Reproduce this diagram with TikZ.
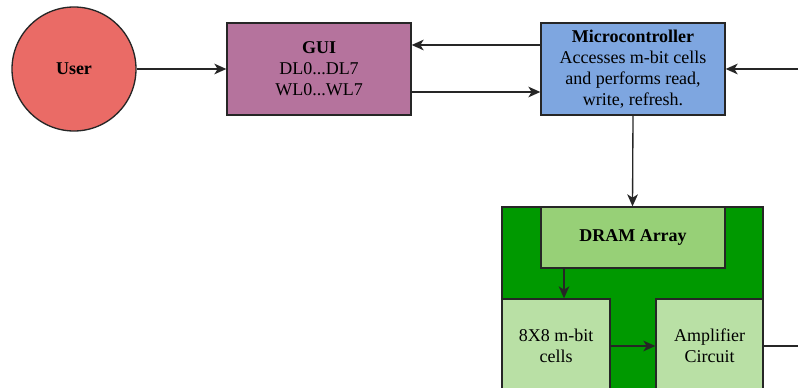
\documentclass[tikz,border=0pt]{standalone}
\usepackage{fontspec}
\setmainfont{Liberation Serif}
\usetikzlibrary{arrows.meta}

\definecolor{userred}{HTML}{EA6B66}
\definecolor{guipurple}{HTML}{B5739D}
\definecolor{mcublue}{HTML}{7EA6E0}
\definecolor{chipgreen}{HTML}{009900}
\definecolor{arraygreen}{HTML}{97D077}
\definecolor{cellgreen}{HTML}{B9E0A5}

\tikzset{
	blk/.style={draw=black!85, line width=1pt, align=center, inner sep=1pt, font=\fontsize{13.5}{15.75}\selectfont},
	arr/.style={line width=1pt, draw=black!85, -{Stealth[length=9pt, width=8pt, inset=2.5pt]}},
	wire/.style={line width=1pt, draw=black!85}
}

\begin{document}
\begin{tikzpicture}[x=0.75pt, y=-0.75pt]
		%%%%% START %%%%%
		
		\useasboundingbox (0, 0) rectangle (798, 388);
		\clip (0, 0) rectangle (798, 388);
		
		\node[blk, circle, fill=userred, minimum size=93pt, inner sep=0pt] (user) at (74, 69) {\textbf{User}};
		\node[blk, fill=guipurple, minimum width=138pt, minimum height=69pt] (gui) at (319, 69) {\textbf{GUI}\\DL0...DL7\\WL0...WL7};
		\node[blk, fill=mcublue, minimum width=138pt, minimum height=69pt] (mcu) at (633, 69) {\textbf{Microcontroller}\\Accesses m-bit cells\\and performs read,\\write, refresh.};
		
		% chip outline with its three blocks
		\node[blk, fill=chipgreen, minimum width=195.75pt, minimum height=165pt] (chip) at (632.5, 317) {};
		\node[blk, fill=arraygreen, minimum width=138pt, minimum height=45.75pt] (array) at (633, 237.5) {\textbf{DRAM Array}};
		\node[blk, fill=cellgreen, minimum width=81pt, minimum height=70.5pt] (cells) at (556, 346) {8X8 m-bit\\cells};
		\node[blk, fill=cellgreen, minimum width=80.25pt, minimum height=70.5pt] (amp) at (709.5, 346) {Amplifier\\Circuit};
		
		\coordinate (fb) at (800, 69);
		\coordinate (out) at (800, 346);
		
		\draw[arr] (user) -- (gui);
		\draw[arr] (mcu.west |- 0, 45) -- (gui.east |- 0, 45);
		\draw[arr] (gui.east |- 0, 92) -- (mcu.west |- 0, 92);
		\draw[arr] (fb) -- (mcu.east);
		\draw[arr] (mcu.south) -- (chip.north);
		
		\draw[arr] (array.south -| 564, 0) -- (cells.north -| 564, 0);
		\draw[arr] (cells) -- (amp);
		\draw[wire] (amp.east) -- (out);
		
		%%%%% END %%%%%
	\end{tikzpicture}
\end{document}
